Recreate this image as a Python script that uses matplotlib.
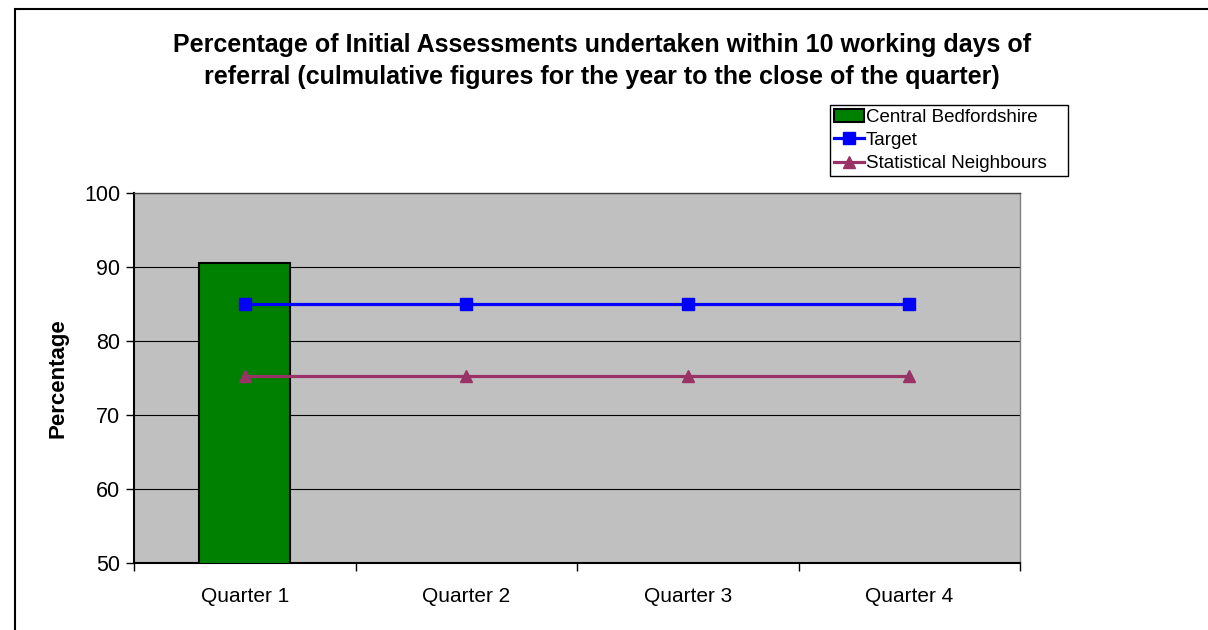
import matplotlib
matplotlib.use("Agg")
import matplotlib.pyplot as plt
from matplotlib.patches import Rectangle
import numpy as np

plt.rcParams['font.family'] = ['Liberation Sans', 'DejaVu Sans']

quarters = ['Quarter 1', 'Quarter 2', 'Quarter 3', 'Quarter 4']
central_beds = [90.6]          # only Q1 reported so far
target = [85, 85, 85, 85]
stat_neighbours = [75.3, 75.3, 75.3, 75.3]

fig = plt.figure(figsize=(12.08, 6.3), dpi=100)

# outer chart border (cropped at right and bottom in the original)
fig.patches.append(Rectangle((15 / 1208, -0.1), 1.2, (630 - 9) / 630 + 0.1,
                             transform=fig.transFigure, fill=False,
                             edgecolor='black', linewidth=1.5))

ax = fig.add_axes([134 / 1208, 67 / 630, 886 / 1208, 370 / 630])
ax.set_facecolor('#c0c0c0')

x = np.arange(len(quarters))
ax.bar(x[:len(central_beds)], central_beds, width=0.41, color='#008000',
       edgecolor='black', linewidth=1.5, label='Central Bedfordshire', zorder=3)
ax.plot(x, target, color='#0000ff', linewidth=2.3, marker='s', markersize=8,
        label='Target', zorder=4)
ax.plot(x, stat_neighbours, color='#993366', linewidth=2.3, marker='^',
        markersize=9, label='Statistical Neighbours', zorder=4)

ax.set_ylim(50, 100)
ax.set_xlim(-0.5, len(quarters) - 0.5)
ax.set_yticks([50, 60, 70, 80, 90, 100])
ax.yaxis.grid(True, color='black', linewidth=0.8, zorder=1)
ax.set_axisbelow(True)

ax.set_xticks(x)
ax.set_xticklabels(quarters, fontsize=15)
ax.set_xticks(np.arange(-0.5, len(quarters)), minor=True)
ax.tick_params(axis='x', which='major', length=0, pad=17)
ax.tick_params(axis='x', which='minor', length=6, width=1, direction='out')
ax.tick_params(axis='y', length=6, width=1, labelsize=15.5, pad=4)

for s in ['left', 'bottom']:
    ax.spines[s].set_linewidth(1.5)
    ax.spines[s].set_color('black')
ax.spines['top'].set_color('#404040')
ax.spines['top'].set_linewidth(1.0)
ax.spines['right'].set_color('#808080')
ax.spines['right'].set_linewidth(1.0)

ax.set_ylabel('Percentage', fontsize=16, fontweight='bold')
ax.yaxis.set_label_coords(-66 / 886, 0.5)

fig.text(602 / 1208, 1 - 61 / 630,
         'Percentage of Initial Assessments undertaken within 10 working days of\n'
         'referral (culmulative figures for the year to the close of the quarter)',
         ha='center', va='center', fontsize=18, fontweight='bold', linespacing=1.4)

handles, labels = ax.get_legend_handles_labels()
order = [labels.index(l) for l in ['Central Bedfordshire', 'Target', 'Statistical Neighbours']]
leg = ax.legend([handles[i] for i in order], [labels[i] for i in order],
                loc='upper left',
                bbox_to_anchor=(830 / 1208, 1 - 175 / 630, 238 / 1208, 70 / 630),
                bbox_transform=fig.transFigure, mode='expand',
                fontsize=13.5, frameon=True,
                fancybox=False, edgecolor='black', framealpha=1,
                borderpad=0.2, labelspacing=0.32, handlelength=1.6,
                handletextpad=0.1, borderaxespad=0)
leg.get_frame().set_linewidth(1.0)

fig.savefig('out.png', dpi=100)
